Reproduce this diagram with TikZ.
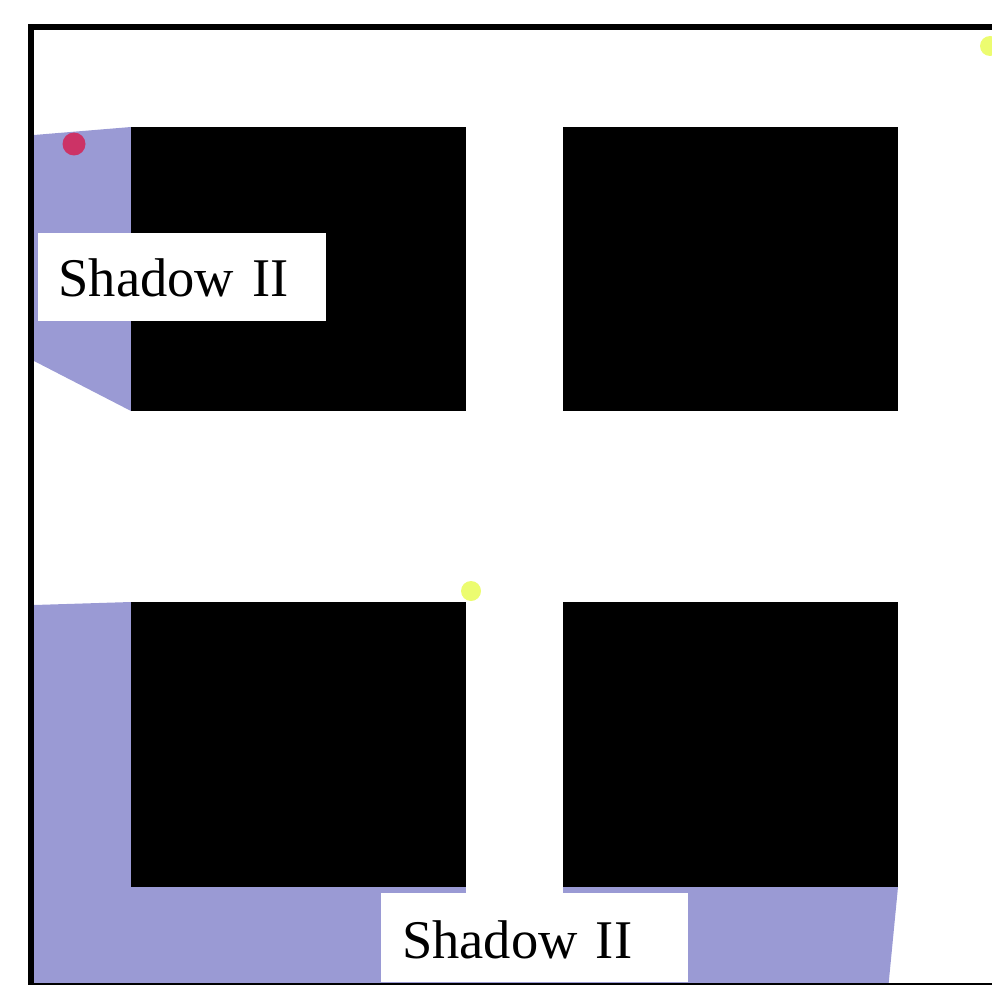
\documentclass[tikz,border=0pt]{standalone}
\usepackage{fontspec}
\setmainfont{Liberation Serif}
\usetikzlibrary{positioning}

\definecolor{shadowblue}{RGB}{154,154,212}
\definecolor{agentred}{RGB}{204,51,102}
\definecolor{lampyellow}{RGB}{236,252,112}

\begin{document}
\begin{tikzpicture}[
    x=1pt, y=-1pt,
    block/.style={fill=black},
    shadow/.style={fill=shadowblue},
    dot/.style={circle, inner sep=0pt, minimum size=20pt},
    tag/.style={fill=white, anchor=north west, inner xsep=21pt, inner ysep=0pt,
        align=left, font=\fontsize{54.5}{60}\selectfont}
]
    \useasboundingbox (0,0) rectangle (992,984);
    \clip (0,0) rectangle (992,984);

    % shadow regions
    \fill[shadow] (34,135) -- (131,127) -- (131,411) -- (34,361) -- cycle;
    \fill[shadow] (34,605) -- (131,602) -- (131,887) -- (898,887) -- (888,990) -- (34,990) -- cycle;
    \fill[white] (466,602) rectangle (563,893);

    % obstacles
    \fill[block] (131,127) rectangle (466,411);
    \fill[block] (563,127) rectangle (898,411);
    \fill[block] (131,602) rectangle (466,887);
    \fill[block] (563,602) rectangle (898,887);

    % agents and lights
    \node[dot, fill=agentred, minimum size=23pt] (robot) at (74,144) {};
    \node[dot, fill=lampyellow] (lampA) at (471,591) {};
    \node[dot, fill=lampyellow] (lampB) at (990,46) {};
    \node[dot, fill=lampyellow] (lampC) at (514,994) {};

    % labels
    \node[tag, text width=246.7pt, text height=63.3pt, text depth=24.7pt] (shadowtop) at (37.3,232.7) {Shadow II};
    \node[tag, text width=265pt, text height=65.3pt, text depth=23.7pt] (shadowbot) at (381,893) {Shadow II};

    % frame
    \draw[line width=6pt] (31,27.5) rectangle (1100,986);
\end{tikzpicture}
\end{document}
